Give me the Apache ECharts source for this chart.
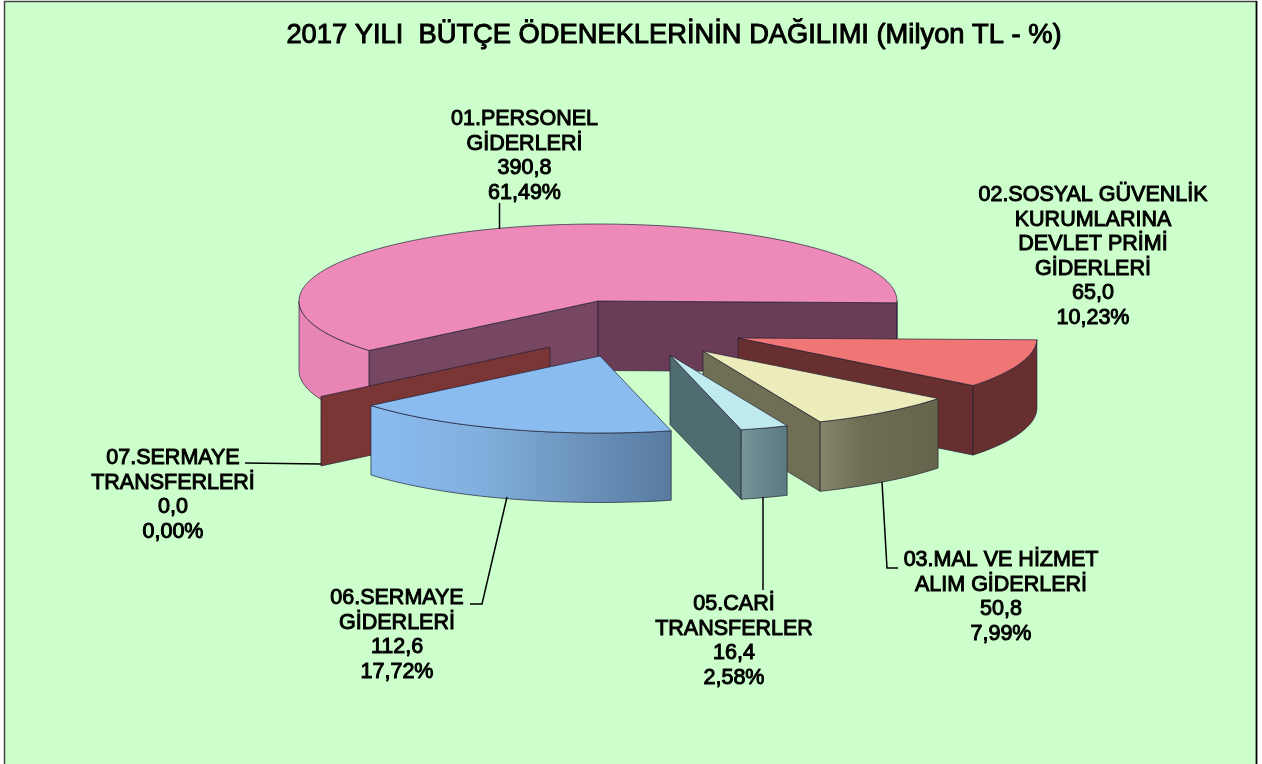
<!DOCTYPE html>
<html><head><meta charset="utf-8">
<style>html,body{margin:0;padding:0;background:#fff}#c{width:1262px;height:764px}</style>
<script src="https://cdn.jsdelivr.net/npm/echarts@6/dist/echarts.min.js"></script>
</head><body><div id="c"></div>
<script>
// ---- data ----
var titleText = '2017 YILI  BÜTÇE ÖDENEKLERİNİN DAĞILIMI (Milyon TL - %)';
var names = ['01.PERSONEL\nGİDERLERİ','02.SOSYAL GÜVENLİK\nKURUMLARINA\nDEVLET PRİMİ\nGİDERLERİ','03.MAL VE HİZMET\nALIM GİDERLERİ','05.CARİ\nTRANSFERLER','06.SERMAYE\nGİDERLERİ','07.SERMAYE\nTRANSFERLERİ'];
var amounts = [390.8, 65.0, 50.8, 16.4, 112.6, 0.0];
var amountLabels = ['390,8','65,0','50,8','16,4','112,6','0,0'];
var percentLabels = ['61,49%','10,23%','7,99%','2,58%','17,72%','0,00%'];

// ---- layout and style ----
var startAngle = 230, RX = 299, RY = 77, DEPTH = 69.5;
var vertices = [[598,301],[738,338],[703,351],[670,355],[600,356],[550,347]];
var stack = [0,1,2,3,5,4];
var topColor = ['#ee8ab9','#f07675','#ecedba','#bfeaf0','#8abcf0','#7a3535'];
var wallStart = ['#774660','#672f30','#6f6f55','#4f6d70','#5a7ea3','#7a3535'];
var wallEnd = ['#6b3c55','#672f30','#6f6f55','#4f6d70','#5a7ea3','#7a3535'];
var arcLeft = ['#e685b5','#672f30','#85856c','#77969a','#8abcf0','#7a3535'];
var arcMid = ['#e785b5','#672f30','#6e6e55','#6a8b90','#82b0de','#7a3535'];
var arcRight = ['#e886b6','#672f30','#65654c','#5c7a80','#587a9f','#7a3535'];
var labelPos = [[524.5,107],[1093,183],[1001,548],[734,592],[397,586],[173,446]];
var leaders = [
  [[499.5,229],[499.5,203]],
  null,
  [[882,482],[887,568],[898,568]],
  [[763,497],[763,590]],
  [[507,497],[482,604],[470,604]],
  [[321,464],[245,463]]
];
var LINE = 24.5;

var total = amounts.reduce(function(a,b){return a+b;},0);
var spans = [], acc = startAngle;
amounts.forEach(function(v){ var s = v/total*360; spans.push([acc, acc+s]); acc += s; });
var RAD = Math.PI/180;
function pt(c,deg,dz){ return [c[0]+RX*Math.sin(deg*RAD), c[1]-RY*Math.cos(deg*RAD)+(dz||0)]; }
function arcPts(c,a,b,dz){
  var n = Math.max(1,Math.ceil(Math.abs(b-a)/2)), o=[];
  for(var i=0;i<=n;i++) o.push(pt(c,a+(b-a)*i/n,dz));
  return o;
}
var edge = {stroke:'rgba(30,30,50,0.75)',lineWidth:0.9,lineJoin:'round'};
function face(points,fill,z2){
  return {type:'polygon',shape:{points:points},z2:z2,style:Object.assign({fill:fill},edge)};
}
function renderItem(params){
  var i = params.dataIndex, c = vertices[i], a = spans[i][0], b = spans[i][1];
  var base = stack.indexOf(i)*10, kids = [];
  // radial walls facing the viewer
  if(Math.sin(a*RAD) < 0){
    kids.push(face([c,pt(c,a),pt(c,a,DEPTH),[c[0],c[1]+DEPTH]],wallStart[i],base+1));
  }
  if(Math.sin(b*RAD) > 0){
    kids.push(face([c,pt(c,b),pt(c,b,DEPTH),[c[0],c[1]+DEPTH]],wallEnd[i],base+1));
  }
  // outer rim, only the part on the front half
  [[90,270],[450,630]].forEach(function(r){
    var s = Math.max(a,r[0]), e = Math.min(b,r[1]);
    if(e > s){
      var up = arcPts(c,s,e,0), low = arcPts(c,e,s,DEPTH);
      kids.push(face(up.concat(low),{type:'linear',x:0,y:0,x2:1,y2:0,colorStops:[{offset:0,color:arcLeft[i]},{offset:0.35,color:arcMid[i]},{offset:1,color:arcRight[i]}]},base+2));
    }
  });
  // top face
  if(b > a){
    kids.push(face([c].concat(arcPts(c,a,b,0)),topColor[i],base+3));
  }
  // leader line
  if(leaders[i]){
    kids.push({type:'polyline',shape:{points:leaders[i]},z2:100,style:{fill:null,stroke:'#000',lineWidth:1.5}});
  }
  // label
  var txt = [names[i],amountLabels[i],percentLabels[i]].join('\n');
  kids.push({type:'text',z2:110,x:labelPos[i][0],y:labelPos[i][1],style:{
    text:txt,fill:'#000',stroke:'#000',lineWidth:1,
    font:'21.5px "Liberation Sans", Arial, sans-serif',lineHeight:LINE,align:'center',verticalAlign:'top'}});
  return {type:'group',children:kids};
}
var chart = echarts.init(document.getElementById('c'),null,{renderer:'canvas'});
chart.setOption({
  animation:false,
  backgroundColor:'#fff',
  graphic:[
    {type:'rect',z:-10,shape:{x:4.5,y:1.5,width:1252,height:770},style:{fill:'#ccffcc',stroke:'#444',lineWidth:1.5}},
    {type:'line',z:-9,shape:{x1:1256.5,y1:1,x2:1256.5,y2:764},style:{stroke:'#000',lineWidth:1.5}}
  ],
  title:{text:titleText,left:669,top:17,textAlign:'center',textStyle:{fontFamily:'"Liberation Sans", Arial, sans-serif',fontSize:27.3,fontWeight:'normal',color:'#000',textBorderColor:'#000',textBorderWidth:1}},
  series:[{type:'custom',coordinateSystem:'none',renderItem:renderItem,data:amounts,silent:true,clip:false}]
});
</script></body></html>
